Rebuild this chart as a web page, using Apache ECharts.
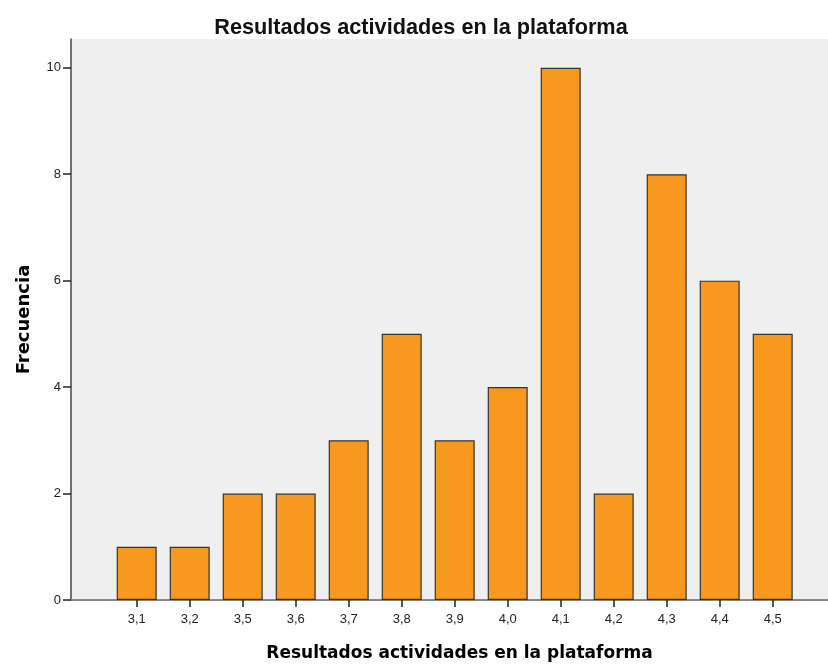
<!DOCTYPE html>
<html><head><meta charset="utf-8">
<script src="https://cdn.jsdelivr.net/npm/echarts@6/dist/echarts.min.js"></script>
<style>html,body{margin:0;padding:0;background:#fff}#c{width:828px;height:665px}</style>
</head><body><div id="c"></div>
<script>
var categories = ['3,1','3,2','3,5','3,6','3,7','3,8','3,9','4,0','4,1','4,2','4,3','4,4','4,5'];
var frecuencia = [1,1,2,2,3,5,3,4,10,2,8,6,5];
var yTicks = [0,2,4,6,8,10];
var titleText = 'Resultados actividades en la plataforma';
var yName = 'Frecuencia';
var xName = 'Resultados actividades en la plataforma';

var chart = echarts.init(document.getElementById('c'), null, {renderer:'canvas'});
var font = 'Liberation Sans, Arial, sans-serif';
var boldFont = 'DejaVu Sans, sans-serif';
var yMax = 10.54;
chart.setOption({
  animation:false,
  title:{text:titleText,left:416,top:12,textAlign:'center',
    textStyle:{fontFamily:font,fontSize:21.7,fontWeight:'bold',color:'#111'}},
  grid:[
    {left:71,top:39,right:0,bottom:65,show:true,backgroundColor:'#efefef',borderWidth:0,outerBoundsMode:'none',containLabel:false},
    {left:110.2,top:39,right:28.8,bottom:65,outerBoundsMode:'none',containLabel:false}
  ],
  xAxis:[
    {type:'value',gridIndex:0,min:0,max:1,position:'bottom',
      axisLine:{show:true,onZero:false,lineStyle:{color:'#222',width:1.5}},
      axisTick:{show:false},axisLabel:{show:false},splitLine:{show:false},
      name:xName,nameLocation:'middle',nameGap:45,
      nameTextStyle:{fontFamily:boldFont,fontSize:17,fontWeight:'bold',color:'#000',padding:[0,0,0,20]}},
    {type:'value',gridIndex:0,min:0,max:1,position:'top',
      axisLine:{show:true,lineStyle:{color:'#888',width:2}},
      axisTick:{show:false},axisLabel:{show:false},splitLine:{show:false}},
    {type:'category',gridIndex:1,data:categories,boundaryGap:true,
      axisLine:{show:false},
      axisTick:{show:true,alignWithLabel:true,length:7,lineStyle:{color:'#222',width:1.5}},
      axisLabel:{fontFamily:font,fontSize:13,color:'#222',margin:13}}
  ],
  yAxis:[
    {type:'value',gridIndex:0,min:0,max:yMax,
      axisLine:{show:true,lineStyle:{color:'#444',width:1.5}},
      axisTick:{show:true,length:8,customValues:yTicks,lineStyle:{color:'#222',width:1.5}},
      axisLabel:{fontFamily:font,fontSize:13,color:'#222',margin:10,customValues:yTicks},
      splitLine:{show:false},
      name:yName,nameLocation:'middle',nameGap:35,nameRotate:90,
      nameTextStyle:{fontFamily:boldFont,fontSize:18,fontWeight:'bold',color:'#000',padding:[0,0,3,0]}},
    {type:'value',gridIndex:1,min:0,max:yMax,show:false}
  ],
  series:[{
    type:'bar',xAxisIndex:2,yAxisIndex:1,data:frecuencia,barWidth:40,
    itemStyle:{color:'#f8991f',borderColor:'#333',borderWidth:1.2}
  }]
});
</script></body></html>
